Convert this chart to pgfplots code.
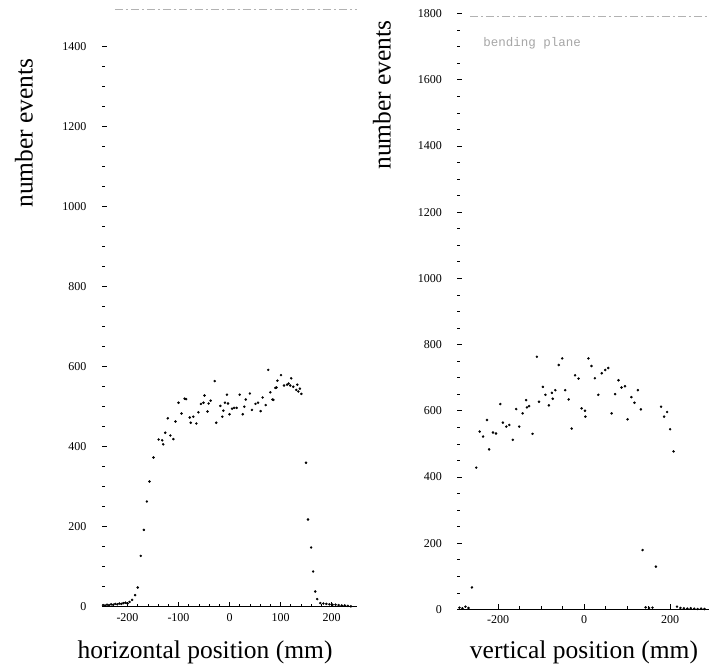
\documentclass[border=0pt]{standalone}
\usepackage{pgfplots}
\pgfplotsset{compat=1.18}
\usepackage{pgfplotstable}
\usepackage{fontspec}
\setmainfont{Liberation Serif}
\newfontfamily\monofont{Liberation Mono}

\pgfplotstableread{
x y
-248 4
-244 3
-240 5
-236 4
-232 6
-228 5
-224 7
-220 6
-216 8
-212 7
-208 9
-204 10
-200 8
-196 12
-191 17
-185 29
-180 48
-174 127
-168 192
-162 263
-157 313
-149 373
-139 418
-132 416
-130 406
-126 435
-121 471
-116 428
-110 419
-106 463
-100 510
-94 483
-88 520
-85 519
-78 473
-76 460
-71 475
-65 458
-61 486
-56 507
-51 510
-49 528
-43 488
-41 508
-37 515
-29 564
-26 460
-18 502
-14 475
-12 490
-9 510
-5 530
-3 508
0 481
5 495
9 497
14 497
20 530
26 481
29 500
32 518
40 533
44 492
51 507
56 510
61 489
65 523
71 504
76 592
80 536
84 518
86 517
90 547
92 548
94 565
101 579
107 553
113 555
116 558
119 553
121 571
125 550
131 542
133 555
135 538
138 545
141 532
150 360
154 218
160 148
164 88
168 38
172 19
178 9
184 8
190 7
196 6
202 5
208 5
214 4
220 3
226 3
232 2
238 1
}\horiz

\pgfplotstableread{
x y
-290 5
-283 3
-276 8
-269 4
-261 66
-251 428
-243 537
-235 522
-226 572
-221 483
-212 534
-205 531
-195 620
-189 564
-181 552
-174 557
-166 512
-158 605
-151 552
-143 592
-135 632
-133 610
-128 614
-120 530
-110 763
-105 627
-96 672
-90 648
-82 616
-75 654
-73 636
-67 662
-59 738
-51 758
-44 662
-36 634
-29 546
-21 707
-13 697
-6 607
2 600
3 582
10 758
17 735
25 698
33 648
41 713
49 723
56 729
64 592
72 650
80 692
87 670
95 674
101 574
110 641
117 624
125 662
132 604
136 179
143 6
151 4
159 5
167 129
179 612
186 582
193 596
200 544
208 477
216 8
224 4
232 3
240 2
248 3
256 2
264 1
272 2
280 1
}\vert

\pgfplotsset{
  panel/.style={
    scale only axis,
    anchor=south west,
    axis line style={draw=none},
    tick style={black, line width=0.5pt},
    major tick length=5pt,
    minor tick length=3pt,
    tick align=inside,
    xtick pos=bottom,
    ytick pos=left,
    ticklabel style={font=\fontsize{12}{14}\selectfont},
    /pgf/number format/assume math mode=true,
    /pgf/number format/1000 sep={},
    yticklabel style={xshift=-12pt},
    xticklabel style={yshift=-3pt},
    clip=false,
  },
  data/.style={only marks, mark=*, mark size=1.05pt, black},
}

\begin{document}
\begin{tikzpicture}[x=1pt,y=1pt]
\path[use as bounding box] (0,0) rectangle (709,670);

\begin{axis}[panel,
  at={(102pt,63.3pt)},
  width=255pt, height=600pt,
  xmin=-250, xmax=250, ymin=0, ymax=1500,
  xtick={-200,-100,0,100,200}, minor x tick num=4,
  ytick={0,200,400,600,800,1000,1200,1400}, minor y tick num=3,
]
\addplot[data] table[x=x,y=y]{\horiz};
\draw[black, line width=0.6pt] (rel axis cs:0,0) -- (rel axis cs:1,0);
\draw[gray!60, line width=0.6pt, dash pattern=on 8pt off 3pt on 2pt off 3pt] (rel axis cs:0.05,0.995) -- (rel axis cs:1,0.995);
\end{axis}

\begin{axis}[panel,
  at={(457.3pt,60.7pt)},
  width=251.5pt, height=595.8pt,
  xmin=-295, xmax=290, ymin=0, ymax=1800,
  xtick={-200,0,200}, minor x tick num=3,
  ytick={0,200,400,600,800,1000,1200,1400,1600,1800}, minor y tick num=3,
]
\addplot[data] table[x=x,y=y]{\vert};
\draw[black, line width=0.6pt] (rel axis cs:0,0) -- (rel axis cs:1,0);
\draw[gray!60, line width=0.6pt, dash pattern=on 8pt off 3pt on 2pt off 3pt] (rel axis cs:0.05,0.995) -- (rel axis cs:1,0.995);
\node[anchor=west, text=gray!70, font=\monofont\fontsize{12.5}{14}\selectfont, inner sep=0pt] at (axis cs:-235,1711) {bending plane};
\end{axis}

\node[font=\fontsize{25.5}{30}\selectfont, rotate=90] at (24,537) {number events};
\node[font=\fontsize{25.5}{30}\selectfont, rotate=90] at (382,575) {number events};
\node[font=\fontsize{25.5}{30}\selectfont] at (205,18) {horizontal position (mm)};
\node[font=\fontsize{25.5}{30}\selectfont] at (584,18) {vertical position (mm)};
\end{tikzpicture}
\end{document}
